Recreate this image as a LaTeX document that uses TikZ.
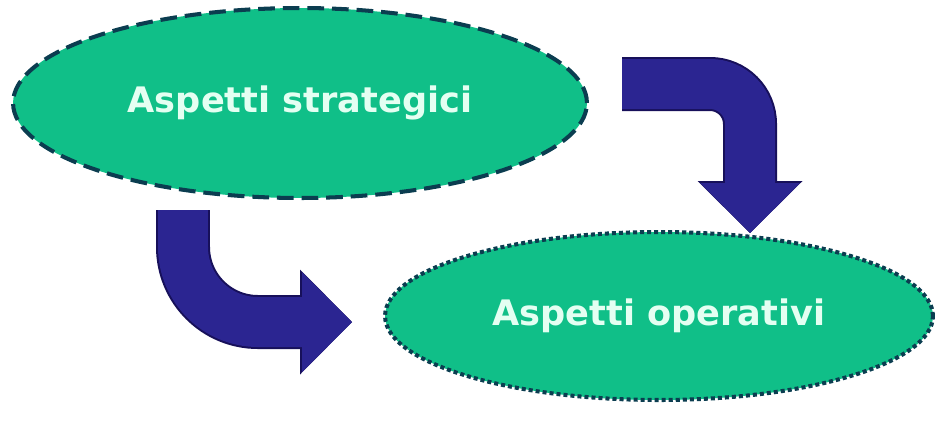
\documentclass[tikz,border=0pt]{standalone}
\usepackage{fontspec}
\setmainfont{DejaVu Sans}
\usetikzlibrary{positioning, arrows.meta, shapes.geometric}

\definecolor{ovalgreen}{HTML}{10BF88}
\definecolor{ovalline}{HTML}{0B3D50}
\definecolor{ovaltext}{HTML}{E4FFF2}
\definecolor{arrowblue}{HTML}{2B2591}
\definecolor{arrowline}{HTML}{17105A}

\begin{document}
\begin{tikzpicture}[
    % GLOBAL CFG
    x=0.02cm, y=-0.02cm,
    font=\bfseries\fontsize{20}{24}\selectfont,
    % Styles
    oval/.style={% For the two aspects
        ellipse,
        fill=ovalgreen,
        draw=ovalline,
        line width=2.3pt,
        inner sep=0pt,
        text=ovaltext,
        },
    ovaldash/.style={% long dashes round the top one
        dash pattern=on 9.5pt off 4.5pt,
        },
    ovaldot/.style={% small square dots round the bottom one
        dash pattern=on 2.3pt off 1.7pt,
        },
    bigarrow/.style={% Fat bent arrows
        draw=arrowblue,
        line width=1cm,
        -{Triangle[length=1cm, width=2cm, line width=0pt]},
        preaction={draw=arrowline, line width=1.08cm,
            -{Triangle[length=1.04cm, width=2.1cm, line width=0pt]}},
        },
    ]

    \useasboundingbox (0,0) rectangle (936,427);

    % Draw the two ovals
    \node[oval, ovaldash, minimum width=11.48cm, minimum height=3.8cm]
        (strategic) at (300,103) {Aspetti strategici};
    \node[oval, ovaldot, minimum width=10.96cm, minimum height=3.36cm]
        (operative) at (659,316) {Aspetti operativi};

    % Ends of the arrows
    \coordinate (right_start) at (622,84);
    \coordinate (right_end) at (750,233);
    \coordinate (left_start) at (183,210);
    \coordinate (left_end) at (352,322);

    % Draw arrows
    \draw [bigarrow, rounded corners=0.8cm] (right_start) -| (right_end);
    \draw [bigarrow, rounded corners=1.5cm] (left_start) |- (left_end);

\end{tikzpicture}
\end{document}
